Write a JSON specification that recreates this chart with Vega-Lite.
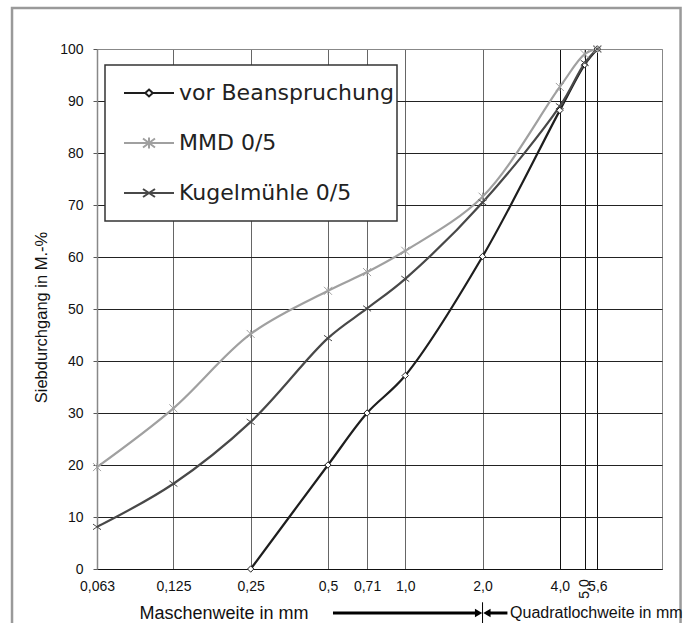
{
  "$schema": "https://vega.github.io/schema/vega-lite/v6.json",
  "width": 565,
  "height": 520,
  "autosize": {"type": "none"},
  "padding": {"left": 97, "top": 49, "right": 28, "bottom": 54},
  "background": "white",
  "config": {
    "font": "Liberation Sans",
    "view": {"stroke": "#888", "strokeWidth": 1},
    "legend": {"strokeWidth": 1.5}
  },
  "datasets": {
    "sieve": [
      {"series": "vor Beanspruchung", "mm": 0.25, "pct": 0},
      {"series": "vor Beanspruchung", "mm": 0.5, "pct": 20},
      {"series": "vor Beanspruchung", "mm": 0.71, "pct": 30},
      {"series": "vor Beanspruchung", "mm": 1.0, "pct": 37.2},
      {"series": "vor Beanspruchung", "mm": 2.0, "pct": 60.1},
      {"series": "vor Beanspruchung", "mm": 4.0, "pct": 88.2},
      {"series": "vor Beanspruchung", "mm": 5.0, "pct": 97},
      {"series": "vor Beanspruchung", "mm": 5.6, "pct": 100},
      {"series": "MMD 0/5", "mm": 0.063, "pct": 19.6},
      {"series": "MMD 0/5", "mm": 0.125, "pct": 30.9},
      {"series": "MMD 0/5", "mm": 0.25, "pct": 45.2},
      {"series": "MMD 0/5", "mm": 0.5, "pct": 53.5},
      {"series": "MMD 0/5", "mm": 0.71, "pct": 57.1},
      {"series": "MMD 0/5", "mm": 1.0, "pct": 61.2},
      {"series": "MMD 0/5", "mm": 2.0, "pct": 71.6},
      {"series": "MMD 0/5", "mm": 4.0, "pct": 92.7},
      {"series": "MMD 0/5", "mm": 5.0, "pct": 99},
      {"series": "MMD 0/5", "mm": 5.6, "pct": 100},
      {"series": "Kugelmühle 0/5", "mm": 0.063, "pct": 8.1},
      {"series": "Kugelmühle 0/5", "mm": 0.125, "pct": 16.4},
      {"series": "Kugelmühle 0/5", "mm": 0.25, "pct": 28.3},
      {"series": "Kugelmühle 0/5", "mm": 0.5, "pct": 44.4},
      {"series": "Kugelmühle 0/5", "mm": 0.71, "pct": 50.1},
      {"series": "Kugelmühle 0/5", "mm": 1.0, "pct": 55.8},
      {"series": "Kugelmühle 0/5", "mm": 2.0, "pct": 70.5},
      {"series": "Kugelmühle 0/5", "mm": 4.0, "pct": 89},
      {"series": "Kugelmühle 0/5", "mm": 5.0, "pct": 97.3},
      {"series": "Kugelmühle 0/5", "mm": 5.6, "pct": 100}
    ],
    "one": [{"label": "Quadratlochweite in mm"}],
    "tick5": [{"label": "5,0"}]
  },
  "layer": [
    {
      "data": {"name": "sieve"},
      "mark": {"type": "line", "interpolate": "catmull-rom", "strokeWidth": 2.2},
      "encoding": {
        "x": {
          "field": "mm", "type": "quantitative",
          "scale": {"type": "log", "domain": [0.063, 10], "nice": false},
          "axis": {
            "values": [0.063, 0.125, 0.25, 0.5, 0.71, 1, 2, 4, 5, 5.6],
            "labelExpr": "datum.value == 5 ? '' : datum.value >= 1 ? replace(format(datum.value, '.1f'), '.', ',') : replace(toString(datum.value), '.', ',')",
            "labelOverlap": false,
            "labelFlush": false,
            "labelFont": "Liberation Sans",
            "labelFontSize": 14,
            "labelColor": "#111",
            "labelPadding": 10,
            "ticks": false,
            "tickSize": 0,
            "domain": true,
            "domainColor": "#111",
            "domainWidth": 1,
            "grid": true,
            "gridColor": {"condition": {"test": "datum.value >= 4", "value": "#111"}, "value": "#666"},
            "gridOpacity": 1,
            "gridWidth": 1,
            "title": "Maschenweite in mm",
            "titleFont": "Liberation Sans",
            "titleFontSize": 18,
            "titleFontWeight": "normal",
            "titleColor": "#111",
            "titleX": 42,
            "titleY": 49,
            "titleAlign": "left",
            "titleBaseline": "alphabetic"
          }
        },
        "y": {
          "field": "pct", "type": "quantitative",
          "scale": {"domain": [0, 100], "nice": false},
          "axis": {
            "values": [0, 10, 20, 30, 40, 50, 60, 70, 80, 90, 100],
            "labelFont": "Liberation Sans",
            "labelFontSize": 14,
            "labelColor": "#111",
            "labelPadding": 10,
            "tickSize": 4,
            "tickColor": "#555",
            "domainColor": "#888",
            "domainWidth": 1.5,
            "grid": true,
            "gridColor": {"condition": {"test": "datum.value == 100", "value": "#888"}, "value": "#222"},
            "gridOpacity": 1,
            "gridWidth": 1,
            "title": "Siebdurchgang in M.-%",
            "titleFont": "Liberation Sans",
            "titleFontSize": 16.5,
            "titleFontWeight": "normal",
            "titleColor": "#111",
            "titleAngle": -90,
            "titleX": -51,
            "titleY": 268,
            "titleAlign": "center",
            "titleBaseline": "alphabetic"
          }
        },
        "color": {
          "field": "series", "type": "nominal",
          "scale": {"domain": ["vor Beanspruchung", "MMD 0/5", "Kugelmühle 0/5"], "range": ["#1e1e1e", "#a0a0a0", "#484848"]},
          "legend": {
            "orient": "none",
            "legendX": 8,
            "legendY": 16,
            "title": null,
            "fillColor": "white",
            "strokeColor": "#333",
            "padding": 3,
            "rowPadding": 0,
            "clipHeight": 50,
            "symbolSize": 2500,
            "symbolOffset": 15,
            "symbolStrokeWidth": 2,
            "labelOffset": 4,
            "labelFont": "DejaVu Sans",
            "labelFontSize": 22,
            "labelColor": "#222",
            "labelLimit": 400,
            "labelExpr": "datum.label + '\u00a0'",
            "encode": {
              "symbols": {
                "update": {
                  "shape": [
                    {"test": "datum.value === 'vor Beanspruchung'", "value": "M-1,0H-0.15M0.15,0H1M0,-0.14L0.15,0L0,0.14L-0.15,0Z"},
                    {"test": "datum.value === 'MMD 0/5'", "value": "M-1,0H1M-0.24,-0.18L0.24,0.18M-0.24,0.18L0.24,-0.18M0,-0.22V0.22"},
                    {"value": "M-1,0H1M-0.24,-0.16L0.24,0.16M-0.24,0.16L0.24,-0.16"}
                  ],
                  "fill": {"value": "white"},
                  "strokeWidth": {"value": 2},
                  "opacity": {"value": 1}
                }
              }
            }
          }
        }
      }
    },
    {
      "data": {"name": "one"},
      "mark": {"type": "rect", "fill": "transparent", "stroke": "#9a9a9a", "strokeWidth": 2.5},
      "encoding": {
        "x": {"datum": 0.0294, "type": "quantitative", "scale": {"type": "log", "domain": [0.063, 10], "nice": false}},
        "x2": {"datum": 11.81},
        "y": {"datum": 107.9, "type": "quantitative", "scale": {"domain": [0, 100], "nice": false}},
        "y2": {"datum": -14}
      }
    },
    {
      "data": {"name": "sieve"},
      "transform": [{"filter": "datum.series === 'vor Beanspruchung'"}],
      "mark": {"type": "point", "shape": "diamond", "filled": false, "fill": "white", "strokeWidth": 1, "opacity": 1, "size": 40},
      "encoding": {
        "x": {"field": "mm", "type": "quantitative", "scale": {"type": "log", "domain": [0.063, 10], "nice": false}},
        "y": {"field": "pct", "type": "quantitative", "scale": {"domain": [0, 100], "nice": false}},
        "color": {"field": "series", "type": "nominal", "legend": null}
      }
    },
    {
      "data": {"name": "sieve"},
      "transform": [{"filter": "datum.series === 'MMD 0/5'"}],
      "mark": {"type": "point", "shape": "M-1,-1L1,1M-1,1L1,-1M0,-1V1", "filled": false, "strokeWidth": 1, "opacity": 1, "size": 64},
      "encoding": {
        "x": {"field": "mm", "type": "quantitative", "scale": {"type": "log", "domain": [0.063, 10], "nice": false}},
        "y": {"field": "pct", "type": "quantitative", "scale": {"domain": [0, 100], "nice": false}},
        "color": {"field": "series", "type": "nominal", "legend": null}
      }
    },
    {
      "data": {"name": "sieve"},
      "transform": [{"filter": "datum.series === 'Kugelmühle 0/5'"}],
      "mark": {"type": "point", "shape": "M-1,-0.7L1,0.7M-1,0.7L1,-0.7", "filled": false, "strokeWidth": 1, "opacity": 1, "size": 64},
      "encoding": {
        "x": {"field": "mm", "type": "quantitative", "scale": {"type": "log", "domain": [0.063, 10], "nice": false}},
        "y": {"field": "pct", "type": "quantitative", "scale": {"domain": [0, 100], "nice": false}},
        "color": {"field": "series", "type": "nominal", "legend": null}
      }
    },
    {
      "data": {"name": "tick5"},
      "mark": {"type": "text", "angle": 270, "align": "right", "baseline": "middle", "font": "Liberation Sans", "fontSize": 14, "color": "#111"},
      "encoding": {
        "x": {"datum": 5, "type": "quantitative", "scale": {"type": "log", "domain": [0.063, 10], "nice": false}},
        "y": {"datum": -1.96, "type": "quantitative", "scale": {"domain": [0, 100], "nice": false}},
        "text": {"field": "label"}
      }
    },
    {
      "data": {"name": "one"},
      "mark": {"type": "rule", "strokeWidth": 3, "color": "#000"},
      "encoding": {
        "x": {"datum": 0.523, "type": "quantitative", "scale": {"type": "log", "domain": [0.063, 10], "nice": false}},
        "x2": {"datum": 1.9},
        "y": {"datum": -8.46, "type": "quantitative", "scale": {"domain": [0, 100], "nice": false}}
      }
    },
    {
      "data": {"name": "one"},
      "mark": {"type": "rule", "strokeWidth": 3, "color": "#000"},
      "encoding": {
        "x": {"datum": 2.1, "type": "quantitative", "scale": {"type": "log", "domain": [0.063, 10], "nice": false}},
        "x2": {"datum": 2.5},
        "y": {"datum": -8.46, "type": "quantitative", "scale": {"domain": [0, 100], "nice": false}}
      }
    },
    {
      "data": {"name": "one"},
      "mark": {"type": "rule", "strokeWidth": 1, "color": "#000"},
      "encoding": {
        "x": {"datum": 2.0, "type": "quantitative", "scale": {"type": "log", "domain": [0.063, 10], "nice": false}},
        "y": {"datum": -6.4, "type": "quantitative", "scale": {"domain": [0, 100], "nice": false}},
        "y2": {"datum": -10.4}
      }
    },
    {
      "data": {"name": "one"},
      "mark": {"type": "point", "shape": "triangle-right", "filled": true, "color": "#000", "size": 70, "opacity": 1},
      "encoding": {
        "x": {"datum": 1.93, "type": "quantitative", "scale": {"type": "log", "domain": [0.063, 10], "nice": false}},
        "y": {"datum": -8.46, "type": "quantitative", "scale": {"domain": [0, 100], "nice": false}}
      }
    },
    {
      "data": {"name": "one"},
      "mark": {"type": "point", "shape": "triangle-left", "filled": true, "color": "#000", "size": 70, "opacity": 1},
      "encoding": {
        "x": {"datum": 2.08, "type": "quantitative", "scale": {"type": "log", "domain": [0.063, 10], "nice": false}},
        "y": {"datum": -8.46, "type": "quantitative", "scale": {"domain": [0, 100], "nice": false}}
      }
    },
    {
      "data": {"name": "one"},
      "mark": {"type": "text", "align": "left", "baseline": "alphabetic", "font": "Liberation Sans", "fontSize": 16, "color": "#111"},
      "encoding": {
        "x": {"datum": 2.56, "type": "quantitative", "scale": {"type": "log", "domain": [0.063, 10], "nice": false}},
        "y": {"datum": -9.46, "type": "quantitative", "scale": {"domain": [0, 100], "nice": false}},
        "text": {"field": "label"}
      }
    }
  ]
}
